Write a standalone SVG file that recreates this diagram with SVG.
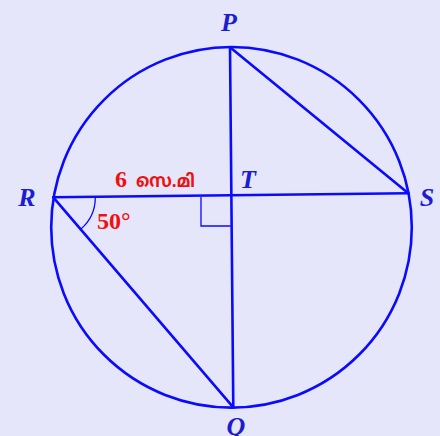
<svg xmlns="http://www.w3.org/2000/svg" width="440" height="436" viewBox="0 0 440 436">
<style>
.ln{stroke:#0a0aff;stroke-width:2.6;fill:none;stroke-linecap:round}
.thin{stroke:#0a0aff;stroke-width:1.3;fill:none}
.lbl{font-family:"Liberation Serif",serif;font-style:italic;font-weight:bold;font-size:26px;fill:#1c1cd0;text-anchor:middle}
.red{font-family:"Liberation Serif","Noto Sans Malayalam","Noto Sans",serif;font-weight:bold;font-size:24px;fill:#f01010}
.ml{font-family:"Noto Sans Malayalam","Noto Sans",sans-serif;font-size:18px}
</style>
<rect width="440" height="436" fill="#e6e6fa"/>
<g id="connectors">
<circle class="ln" cx="231.5" cy="227.3" r="180.3"/>
<line class="ln" x1="230" y1="47.3" x2="233.3" y2="407.3"/>
<line class="ln" x1="53.3" y1="197.3" x2="408.3" y2="193.3"/>
<line class="ln" x1="230" y1="47.3" x2="408.3" y2="193.3"/>
<line class="ln" x1="53.3" y1="197.3" x2="233.3" y2="407.3"/>
<path class="thin" d="M201,196.9 V226 H230.6"/>
<path class="thin" d="M95.3,196.9 A42,42 0 0 1 80.6,229.2"/>
</g>
<g id="P"><text class="lbl" x="229" y="31">P</text></g>
<g id="Q"><text class="lbl" x="236" y="435">Q</text></g>
<g id="R"><text class="lbl" x="27" y="206">R</text></g>
<g id="S"><text class="lbl" x="427" y="206">S</text></g>
<g id="T"><text class="lbl" x="248" y="188">T</text></g>
<g id="len"><text class="red" x="115" y="187">6 <tspan class="ml" x="136" textLength="59" lengthAdjust="spacingAndGlyphs">സെ.മി</tspan></text></g>
<g id="ang"><text class="red" x="97" y="229">50°</text></g>
</svg>
